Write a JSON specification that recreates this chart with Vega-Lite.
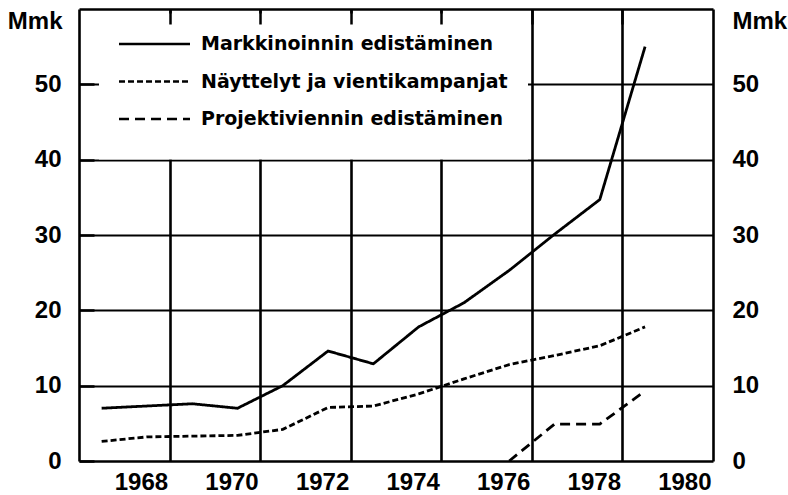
{
  "$schema": "https://vega.github.io/schema/vega-lite/v6.json",
  "width": 634,
  "height": 452,
  "autosize": {"type": "none"},
  "padding": {"left": 79, "top": 9, "right": 75, "bottom": 34},
  "background": "white",
  "config": {
    "view": {"stroke": null},
    "font": "Liberation Sans",
    "axis": {
      "labelFont": "Liberation Sans",
      "labelFontSize": 24,
      "labelFontWeight": "bold",
      "labelColor": "black",
      "titleFont": "Liberation Sans",
      "titleFontSize": 24,
      "titleFontWeight": "bold",
      "titleColor": "black",
      "domainColor": "black",
      "domainWidth": 2.6,
      "tickColor": "black",
      "tickWidth": 2.5,
      "gridColor": "black",
      "gridOpacity": 1
    }
  },
  "data": {
    "values": [
      {"year": 1967, "value": 7.0, "series": "Markkinoinnin edistäminen"},
      {"year": 1968, "value": 7.3, "series": "Markkinoinnin edistäminen"},
      {"year": 1969, "value": 7.6, "series": "Markkinoinnin edistäminen"},
      {"year": 1970, "value": 7.0, "series": "Markkinoinnin edistäminen"},
      {"year": 1971, "value": 10.0, "series": "Markkinoinnin edistäminen"},
      {"year": 1972, "value": 14.6, "series": "Markkinoinnin edistäminen"},
      {"year": 1973, "value": 12.9, "series": "Markkinoinnin edistäminen"},
      {"year": 1974, "value": 17.8, "series": "Markkinoinnin edistäminen"},
      {"year": 1975, "value": 21.0, "series": "Markkinoinnin edistäminen"},
      {"year": 1976, "value": 25.3, "series": "Markkinoinnin edistäminen"},
      {"year": 1977, "value": 30.1, "series": "Markkinoinnin edistäminen"},
      {"year": 1978, "value": 34.7, "series": "Markkinoinnin edistäminen"},
      {"year": 1979, "value": 55.0, "series": "Markkinoinnin edistäminen"},
      {"year": 1967, "value": 2.6, "series": "Näyttelyt ja vientikampanjat"},
      {"year": 1968, "value": 3.2, "series": "Näyttelyt ja vientikampanjat"},
      {"year": 1969, "value": 3.3, "series": "Näyttelyt ja vientikampanjat"},
      {"year": 1970, "value": 3.4, "series": "Näyttelyt ja vientikampanjat"},
      {"year": 1971, "value": 4.2, "series": "Näyttelyt ja vientikampanjat"},
      {"year": 1972, "value": 7.1, "series": "Näyttelyt ja vientikampanjat"},
      {"year": 1973, "value": 7.3, "series": "Näyttelyt ja vientikampanjat"},
      {"year": 1974, "value": 8.9, "series": "Näyttelyt ja vientikampanjat"},
      {"year": 1975, "value": 10.9, "series": "Näyttelyt ja vientikampanjat"},
      {"year": 1976, "value": 12.8, "series": "Näyttelyt ja vientikampanjat"},
      {"year": 1977, "value": 14.0, "series": "Näyttelyt ja vientikampanjat"},
      {"year": 1978, "value": 15.3, "series": "Näyttelyt ja vientikampanjat"},
      {"year": 1979, "value": 17.8, "series": "Näyttelyt ja vientikampanjat"},
      {"year": 1976, "value": 0.0, "series": "Projektiviennin edistäminen"},
      {"year": 1977, "value": 4.9, "series": "Projektiviennin edistäminen"},
      {"year": 1978, "value": 4.9, "series": "Projektiviennin edistäminen"},
      {"year": 1979, "value": 9.3, "series": "Projektiviennin edistäminen"}
    ]
  },
  "layer": [
    {
      "mark": {"type": "point", "opacity": 0},
      "encoding": {
        "x": {
          "field": "year", "type": "quantitative",
          "scale": {"domain": [1966.5, 1980.5], "nice": false, "zero": false},
          "axis": {
            "orient": "top", "values": [1968.5, 1970.5, 1972.5, 1974.5, 1976.5, 1978.5],
            "grid": true, "gridWidth": 2.6, "ticks": false, "labels": false, "domain": false,
            "title": null, "zindex": 0
          }
        },
        "y": {
          "field": "value", "type": "quantitative",
          "scale": {"domain": [0, 60], "nice": false},
          "axis": {
            "orient": "right", "values": [10, 20, 30, 40, 50],
            "grid": true, "gridWidth": 2.2, "ticks": false, "labels": false, "domain": false,
            "title": null, "zindex": 0
          }
        }
      }
    },
    {
      "mark": {"type": "line", "color": "black", "strokeWidth": 2.8},
      "encoding": {
        "x": {
          "field": "year", "type": "quantitative",
          "scale": {"domain": [1966.5, 1980.5], "nice": false, "zero": false},
          "axis": {
            "orient": "bottom", "values": [1968, 1970, 1972, 1974, 1976, 1978, 1980],
            "format": "d", "ticks": false, "grid": false, "domain": true,
            "labelPadding": 9, "labelOffset": -6, "title": null, "zindex": 1
          }
        },
        "y": {
          "field": "value", "type": "quantitative",
          "scale": {"domain": [0, 60], "nice": false},
          "axis": {
            "orient": "left", "values": [0, 10, 20, 30, 40, 50],
            "grid": false, "domain": true, "ticks": true, "tickSize": -15,
            "labelPadding": 33,
            "title": "Mmk", "titleAngle": 0, "titleAlign": "right", "titleBaseline": "middle",
            "titleX": -17, "titleY": 12, "zindex": 1
          }
        },
        "strokeDash": {
          "field": "series", "type": "nominal",
          "scale": {
            "domain": ["Markkinoinnin edistäminen", "Näyttelyt ja vientikampanjat", "Projektiviennin edistäminen"],
            "range": [[1, 0], [6, 3], [10, 6]]
          },
          "legend": {
            "orient": "none", "legendX": 20, "legendY": 4.5,
            "title": " ", "titleOrient": "bottom", "titleFontSize": 2, "titlePadding": 8,
            "fillColor": "white", "strokeColor": null, "padding": 20,
            "symbolType": "M-4,0H4", "symbolSize": 315, "symbolStrokeWidth": 2.6,
            "symbolStrokeColor": "black", "symbolFillColor": "transparent",
            "symbolOffset": 25, "labelOffset": 36,
            "labelFont": "DejaVu Sans", "labelFontSize": 19, "labelFontWeight": "bold",
            "labelColor": "black", "rowPadding": 16.5, "labelLimit": 500
          }
        }
      }
    },
    {
      "mark": {"type": "point", "opacity": 0},
      "encoding": {
        "x": {
          "field": "year", "type": "quantitative",
          "scale": {"domain": [1966.5, 1980.5], "nice": false, "zero": false},
          "axis": {
            "orient": "top", "values": [1968.5, 1970.5, 1972.5, 1974.5, 1976.5, 1978.5],
            "grid": false, "ticks": true, "tickSize": -15, "labels": false, "domain": true,
            "title": null, "zindex": 1
          }
        },
        "y": {
          "field": "value", "type": "quantitative",
          "scale": {"domain": [0, 60], "nice": false},
          "axis": {
            "orient": "right", "values": [0, 10, 20, 30, 40, 50],
            "grid": false, "ticks": false, "domain": true, "labelPadding": 19,
            "title": "Mmk", "titleAngle": 0, "titleAlign": "left", "titleBaseline": "middle",
            "titleX": 19, "titleY": 12, "zindex": 1
          }
        }
      }
    }
  ],
  "resolve": {"axis": {"x": "independent", "y": "independent"}}
}
